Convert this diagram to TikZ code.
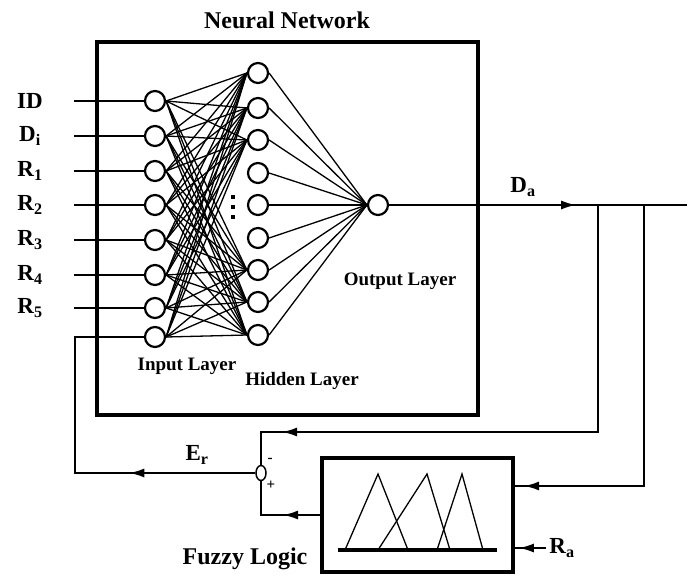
\documentclass[tikz,border=0pt]{standalone}
\usepackage{fontspec}
\setmainfont{Liberation Serif}
\usepackage{tikz}
\usetikzlibrary{positioning, shapes.geometric, arrows.meta, decorations.markings}
\tikzset{
  neuron/.style={circle, draw, line width=2.2pt, minimum size=20pt, inner sep=0pt},
  wire/.style={line width=1.8pt},
  syn/.style={line width=1.3pt},
  arrowat/.style={postaction={decorate, decoration={markings,
      mark=at position #1 with {\arrow{Latex[length=15pt, width=9pt]}}}}},
  sig/.style={font=\fontsize{23}{25}\selectfont\bfseries},
  layer/.style={font=\fontsize{19}{21}\selectfont\bfseries},
  heading/.style={font=\fontsize{24}{26}\selectfont\bfseries},
}

\begin{document}
\begin{tikzpicture}[x=1pt, y=-1pt]
  \useasboundingbox (0,0) rectangle (687,575);
  \def\xin{155}
  \def\xhid{258}
  % blocks
  \node[draw, line width=4pt, minimum width=381pt, minimum height=373pt, inner sep=0pt]
     (nnbox) at (287.5,228.5) {};
  \node[heading] (nntitle) at (287,20) {Neural Network};
  \node[draw, line width=4pt, minimum width=191pt, minimum height=114pt, inner sep=0pt]
     (fuzzy) at (417.5,515) {};
  \node[heading] (fztitle) at (245,559) {Fuzzy Logic};
  % membership functions
  \draw[line width=3.5pt] (338,550) -- (497,550);
  \foreach \a/\b/\c in {345/378/408, 378/427/450, 437/462/483}{
    \draw[line width=1.3pt] (\a,550) -- (\b,474) -- (\c,550);
  }
  % neurons
  \foreach \i/\y in {1/101,2/136,3/171,4/205,5/240,6/275,7/308,8/337}{
    \node[neuron] (in\i) at (\xin,\y) {};
  }
  \foreach \j/\y in {1/73,2/108,3/140,4/173,5/205,6/238,7/270,8/302,9/335}{
    \node[neuron] (hid\j) at (\xhid,\y) {};
  }
  \node[neuron] (out) at (378,205) {};
  \foreach \y in {197,207,217}{
    \fill (231,\y-2) rectangle (235,\y+2);
  }
  % weights
  \foreach \i in {1,...,8}{
    \foreach \j in {1,2,3,7,8,9}{
      \draw[syn] (in\i.east) -- (hid\j.west);
    }
  }
  \foreach \j in {1,...,9}{
    \draw[syn] (hid\j.east) -- (out.west);
  }
  \node[layer] (inlbl) at (187,366) {Input Layer};
  \node[layer] (hidlbl) at (302,381) {Hidden Layer};
  \node[layer] (outlbl) at (400,281) {Output Layer};
  % inputs
  \foreach \i/\lab in {1/ID, 2/D\textsubscript{i}, 3/R\textsubscript{1}, 4/R\textsubscript{2},
                       5/R\textsubscript{3}, 6/R\textsubscript{4}, 7/R\textsubscript{5}}{
    \node[sig] (sig\i) at (30,0 |- in\i) {\lab};
    \coordinate (src\i) at (74,0 |- in\i);
    \draw[wire] (src\i) -- (in\i.west);
  }
  % output and feedback loop
  \node[sig] (dalbl) at (523,187) {D\textsubscript{a}};
  \coordinate (tap1) at (598,205);
  \coordinate (tap2) at (644,205);
  \coordinate (daend) at (687,205);
  \draw[wire, arrowat=187pt] (out.east) -- (daend);
  \node[draw, ellipse, line width=1.5pt, minimum width=10pt, minimum height=15pt, inner sep=0pt]
     (sum) at (261,473) {};
  \node[font=\fontsize{15}{15}\selectfont\bfseries] (minus) at (270,460) {-};
  \node[font=\fontsize{15}{15}\selectfont\bfseries] (plus) at (271,485) {+};
  \coordinate (fb1) at (598,432);
  \draw[wire, arrowat=543pt] (tap1) -- (fb1) -| (sum.north);
  \coordinate (fb2) at (644,486);
  \draw[wire, arrowat=401pt] (tap2) -- (fb2) -- (fuzzy.east |- fb2);
  \coordinate (fzout) at (322,515);
  \draw[wire, arrowat=39pt] (fzout) -| (sum.south);
  \coordinate (erturn) at (75,473);
  \draw[wire, arrowat=126pt] (sum.west) -- (erturn) |- (in8.west);
  \node[sig] (erlbl) at (197,455) {E\textsubscript{r}};
  \node[sig] (ralbl) at (562,548) {R\textsubscript{a}};
  \draw[wire, arrowat=27pt] (ralbl.west) -- (fuzzy.east |- ralbl);
\end{tikzpicture}
\end{document}
